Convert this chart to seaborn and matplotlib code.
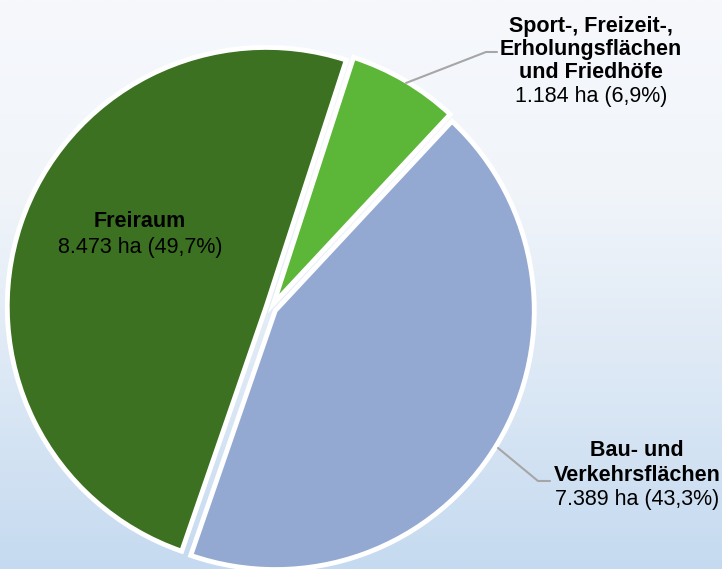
import numpy as np
import matplotlib
matplotlib.use("Agg")
import matplotlib.pyplot as plt
import seaborn as sns
from matplotlib.colors import LinearSegmentedColormap

# Daten
kategorien = ["Freiraum", "Bau- und Verkehrsflächen", "Sport-, Freizeit-, Erholungsflächen und Friedhöfe"]
flaeche_ha = [8473, 7389, 1184]
anteil_txt = ["8.473 ha (49,7%)", "7.389 ha (43,3%)", "1.184 ha (6,9%)"]
farben = ["#3b7121", "#94a9d1", "#5cb637"]

sns.set_theme(style="white")
plt.rcParams["font.family"] = ["Liberation Sans", "DejaVu Sans"]

W, H = 722, 569
fig = plt.figure(figsize=(W / 100, H / 100), dpi=100)
ax = fig.add_axes([0, 0, 1, 1])

# Hintergrund-Verlauf (oben hell, unten hellblau)
cmap = LinearSegmentedColormap.from_list("bg", ["#c5daf0", "#dce8f5", "#f1f5fa", "#f6f8fc"], N=256)
grad = np.linspace(0, 1, 256).reshape(-1, 1)
ax.imshow(grad, cmap=cmap, extent=[0, W, 0, H], origin="lower", aspect="auto", zorder=0)

# Torte (explode in Pixeln, da Achse in Pixelkoordinaten)
ax.pie(flaeche_ha, colors=farben, startangle=72, counterclock=True,
       center=(271, H - 308), radius=259, explode=[5, 5, 5],
       wedgeprops=dict(edgecolor="white", linewidth=3.5), frame=True)
ax.set_xlim(0, W)
ax.set_ylim(0, H)
ax.set_aspect("equal")
ax.axis("off")

fs = 15.5
def zeilen(x, basen, texte, fett):
    for yb, t, b in zip(basen, texte, fett):
        ax.text(x, H - yb, t, ha="center", va="baseline", fontsize=fs,
                fontweight="bold" if b else "normal", color="black", zorder=5)

# Beschriftungen
zeilen(140, [227, 253], ["Freiraum", anteil_txt[0]], [True, False])
zeilen(591, [32, 55, 78, 102],
       ["Sport-, Freizeit-,", "Erholungsflächen", "und Friedhöfe", anteil_txt[2]],
       [True, True, True, False])
zeilen(637, [456, 481, 505], ["Bau- und", "Verkehrsflächen", anteil_txt[1]], [True, True, False])

# Führungslinien
ax.plot([406, 486, 497], [H - 83, H - 52, H - 52], color="#a6a6a6", lw=1.5, zorder=4)
ax.plot([498, 538, 550], [H - 448, H - 481, H - 481], color="#a6a6a6", lw=1.5, zorder=4)

fig.savefig("out.png", dpi=100)
